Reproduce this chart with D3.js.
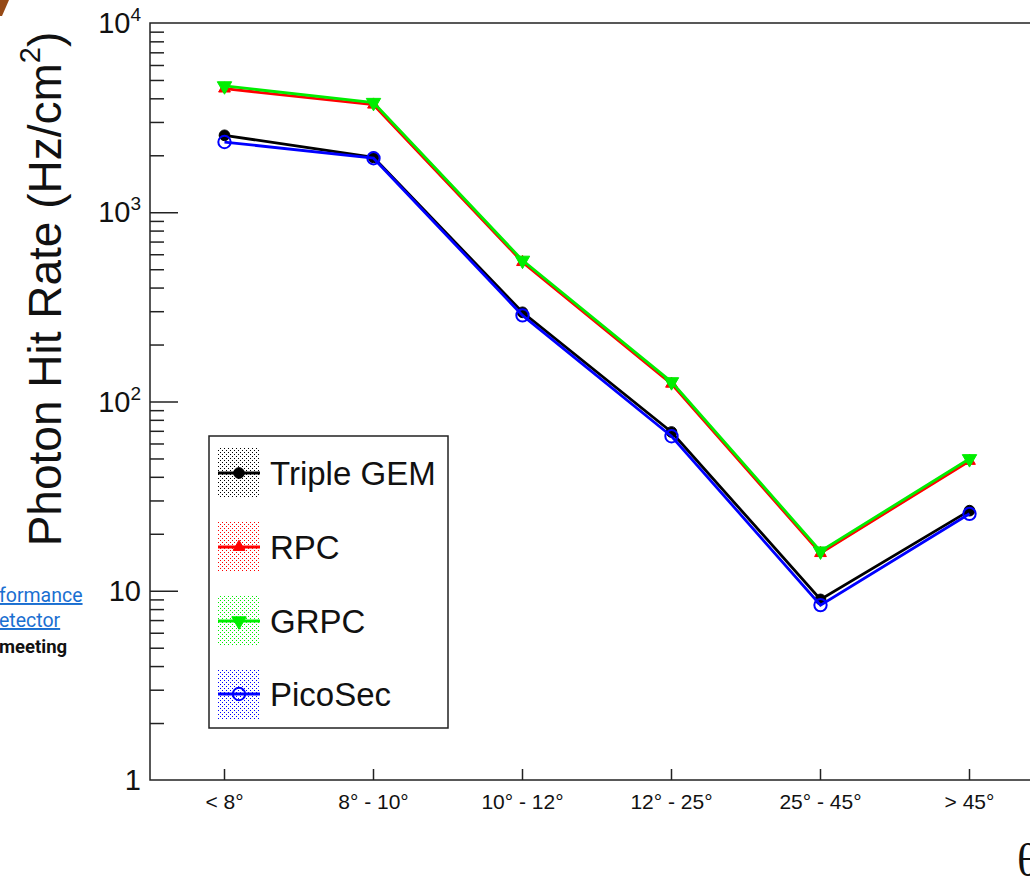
<!DOCTYPE html>
<html>
<head>
<meta charset="utf-8">
<script src="https://cdn.jsdelivr.net/npm/d3@7"></script>
<style>
  html, body { margin: 0; padding: 0; background: #fff; }
  svg { display: block; }
</style>
</head>
<body>
<svg id="chart" width="1030" height="880"></svg>
<script>
// ---- data ----
const categories = ["< 8°", "8° - 10°", "10° - 12°", "12° - 25°", "25° - 45°", "> 45°"];
const tripleGEM = [2550, 1950, 296, 69, 9.0, 26.5];
const rpc       = [4500, 3700, 545, 124, 15.8, 48.5];
const grpc      = [4650, 3800, 557, 127, 16.2, 49.8];
const picoSec   = [2350, 1930, 285, 65.5, 8.4, 25.5];
const seriesNames = ["Triple GEM", "RPC", "GRPC", "PicoSec"];
const yTickValues = [1, 10, 100, 1000, 10000];
const yTickBase = ["1", "10", "10", "10", "10"];
const yTickExp = ["", "", "2", "3", "4"];
const yTitle = "Photon Hit Rate (Hz/cm";
const yTitleSup = "2";

const svg = d3.select("#chart");
const M = { left: 150, top: 23, bottom: 780 };
const binW = 149;
const x = d3.scaleBand().domain(categories).range([M.left, M.left + binW * categories.length]).padding(0);
const y = d3.scaleLog().domain([1, 10000]).range([M.bottom, M.top]);
const cx = c => x(c) + x.bandwidth() / 2;

// background slide fragments
svg.append("polygon").attr("points", "0,0 9,0 2,16 0,16").attr("fill", "#974a16");
const frag = svg.append("g").attr("font-family", "Roboto, 'Noto Sans', sans-serif").attr("font-size", 19.5);
frag.append("text").attr("x", -1).attr("y", 602).attr("fill", "#1a6fd1").attr("text-decoration", "underline").text("formance");
frag.append("text").attr("x", -1).attr("y", 627).attr("fill", "#1a6fd1").attr("text-decoration", "underline").text("etector");
frag.append("text").attr("x", -1).attr("y", 653).attr("fill", "#111").attr("font-weight", "bold").attr("font-size", 18.5).text("meeting");

// frame
svg.append("rect").attr("x", M.left).attr("y", M.top)
  .attr("width", binW * categories.length).attr("height", M.bottom - M.top)
  .attr("fill", "none").attr("stroke", "#222").attr("stroke-width", 1.5);

// y axis minor + major ticks
const minor = [];
for (let d = 1; d < 10000; d *= 10) for (let k = 2; k <= 9; k++) minor.push(d * k);
const yAxisMinor = d3.axisLeft(y).tickValues(minor).tickSize(-14).tickFormat("");
const yAxisMajor = d3.axisLeft(y).tickValues(yTickValues.filter(v => v > 1 && v < 10000)).tickSize(-28).tickFormat("");
[yAxisMinor, yAxisMajor].forEach(ax => {
  const g = svg.append("g").attr("transform", `translate(${M.left},0)`).call(ax);
  g.select(".domain").remove();
  g.selectAll(".tick line").attr("stroke", "#222").attr("stroke-width", 1.5);
});
// y tick labels
const yl = svg.append("g").attr("font-family", "'Liberation Sans', Arial, sans-serif").attr("fill", "#111");
yTickValues.forEach((v, i) => {
  const t = yl.append("text").attr("x", 141).attr("y", y(v) + 10).attr("text-anchor", "end").attr("font-size", 29);
  t.append("tspan").text(yTickBase[i]);
  if (yTickExp[i]) t.append("tspan").attr("font-size", 19).attr("dy", -12).text(yTickExp[i]);
});

// x axis ticks
const xAxis = d3.axisBottom(x).tickSize(-11).tickFormat("");
const gx = svg.append("g").attr("transform", `translate(0,${M.bottom})`).call(xAxis);
gx.select(".domain").remove();
gx.selectAll(".tick line").attr("stroke", "#222").attr("stroke-width", 1.5);
svg.append("g").attr("font-family", "'Liberation Sans', Arial, sans-serif").attr("font-size", 21).attr("fill", "#111")
  .selectAll("text").data(categories).join("text")
  .attr("x", d => cx(d)).attr("y", 809).attr("text-anchor", "middle").text(d => d);

// y axis title
const yt = svg.append("text").attr("transform", "translate(61,289) rotate(-90)")
  .attr("text-anchor", "middle").attr("font-family", "'Liberation Sans', Arial, sans-serif")
  .attr("font-size", 46).attr("fill", "#111");
yt.append("tspan").text(yTitle);
yt.append("tspan").attr("font-size", 29).attr("dy", -21).text(yTitleSup);
yt.append("tspan").attr("dy", 21).text(")");

// x axis title (theta, partially visible at the right edge as in the reference)
svg.append("text").attr("x", 1017).attr("y", 876).attr("font-family", "'Liberation Serif', 'Times New Roman', serif")
  .attr("font-size", 46).attr("fill", "#111").text("θ");

// series
const series = [
  { name: seriesNames[0], values: tripleGEM, color: "#000000", sym: d3.symbolCircle, size: 90, fill: true, rot: 0 },
  { name: seriesNames[1], values: rpc, color: "#ff0000", sym: d3.symbolTriangle, size: 60, fill: true, rot: 0 },
  { name: seriesNames[2], values: grpc, color: "#00ee00", sym: d3.symbolTriangle, size: 90, fill: true, rot: 180 },
  { name: seriesNames[3], values: picoSec, color: "#0000ff", sym: d3.symbolCircle, size: 120, fill: false, rot: 0 }
];
const line = d3.line().x((d, i) => cx(categories[i])).y(d => y(d));
series.forEach(s => {
  svg.append("path").datum(s.values).attr("d", line).attr("fill", "none")
    .attr("stroke", s.color).attr("stroke-width", 2.8);
  svg.append("g").selectAll("path").data(s.values).join("path")
    .attr("d", d3.symbol().type(s.sym).size(s.size))
    .attr("transform", (d, i) => `translate(${cx(categories[i])},${y(d)}) rotate(${s.rot})`)
    .attr("fill", s.fill ? s.color : "none").attr("stroke", s.color).attr("stroke-width", s.fill ? 1 : 2);
});

// legend
const defs = svg.append("defs");
series.forEach((s, i) => {
  const p = defs.append("pattern").attr("id", "pat" + i).attr("patternUnits", "userSpaceOnUse")
    .attr("width", 4).attr("height", 4);
  p.append("rect").attr("x", 0).attr("y", 0).attr("width", 1).attr("height", 1).attr("fill", s.color);
  p.append("rect").attr("x", 2).attr("y", 2).attr("width", 1).attr("height", 1).attr("fill", s.color);
});
const lg = svg.append("g");
lg.append("rect").attr("x", 209).attr("y", 436).attr("width", 239).attr("height", 292)
  .attr("fill", "#fff").attr("stroke", "#222").attr("stroke-width", 1.5);
const rowY = [473, 547, 621, 694];
series.forEach((s, i) => {
  const cy = rowY[i];
  lg.append("rect").attr("x", 218).attr("y", cy - 25).attr("width", 42).attr("height", 50).attr("fill", `url(#pat${i})`);
  lg.append("line").attr("x1", 218).attr("x2", 260).attr("y1", cy).attr("y2", cy)
    .attr("stroke", s.color).attr("stroke-width", 2.8);
  lg.append("path").attr("d", d3.symbol().type(s.sym).size(s.size)())
    .attr("transform", `translate(239,${cy}) rotate(${s.rot})`)
    .attr("fill", s.fill ? s.color : "none").attr("stroke", s.color).attr("stroke-width", s.fill ? 1 : 2);
  lg.append("text").attr("x", 270).attr("y", cy + 12).attr("font-family", "'Liberation Sans', Arial, sans-serif")
    .attr("font-size", 33).attr("fill", "#111").text(s.name);
});
</script>
</body>
</html>
